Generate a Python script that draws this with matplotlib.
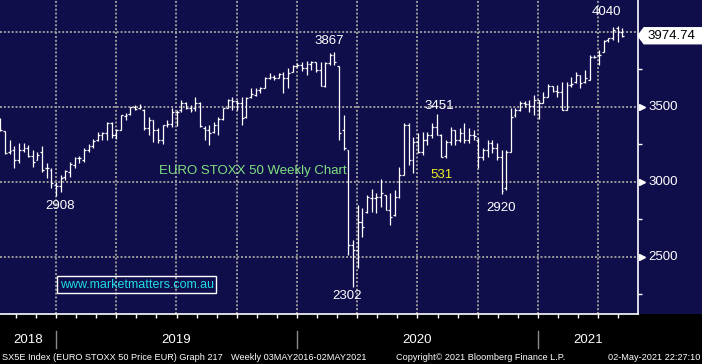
import numpy as np
import pandas as pd
import matplotlib
matplotlib.use('Agg')
import matplotlib.pyplot as plt
from matplotlib.patches import Polygon, Rectangle
from matplotlib.transforms import blended_transform_factory

# weekly bars, EURO STOXX 50 (SX5E), Oct 2018 - Apr 2021
weeks = pd.date_range('2018-10-01', periods=135, freq='W-MON')

opens = [3413, 3340, 3200, 3213, 3147, 3213, 3227, 3173, 3147, 3200,
         3093, 3080, 2980, 2973, 3033, 3067, 3113, 3160, 3147, 3213,
         3240, 3280, 3313, 3327, 3393, 3313, 3347, 3440, 3453, 3500,
         3493, 3480, 3360, 3413, 3347, 3280, 3380, 3387, 3467, 3480,
         3527, 3493, 3493, 3527, 3360, 3347, 3333, 3380, 3420, 3493,
         3547, 3540, 3527, 3433, 3567, 3580, 3613, 3627, 3693, 3700,
         3693, 3720, 3693, 3733, 3773, 3780, 3760, 3787, 3800, 3747,
         3640, 3793, 3847, 3773, 3347, 3213, 2580, 2547, 2733, 2800,
         2893, 2893, 2900, 2913, 2813, 2780, 2900, 3047, 3380, 3147,
         3267, 3200, 3280, 3313, 3367, 3313, 3173, 3267, 3347, 3280,
         3327, 3280, 3313, 3280, 3167, 3213, 3260, 3227, 3167, 2960,
         3200, 3447, 3480, 3527, 3520, 3507, 3547, 3527, 3567, 3640,
         3607, 3600, 3480, 3647, 3667, 3713, 3667, 3680, 3833, 3847,
         3867, 3947, 3960, 4027, 4000]
highs = [3427, 3340, 3280, 3240, 3260, 3260, 3247, 3213, 3200, 3240,
         3127, 3093, 3000, 3047, 3080, 3133, 3167, 3173, 3227, 3253,
         3287, 3333, 3333, 3400, 3400, 3353, 3447, 3460, 3500, 3513,
         3520, 3487, 3433, 3413, 3360, 3380, 3413, 3493, 3480, 3547,
         3533, 3513, 3567, 3533, 3373, 3380, 3400, 3433, 3493, 3553,
         3567, 3547, 3567, 3567, 3627, 3627, 3633, 3700, 3727, 3713,
         3727, 3733, 3760, 3780, 3793, 3800, 3807, 3807, 3800, 3800,
         3800, 3860, 3867, 3773, 3447, 3213, 2613, 2847, 2827, 2913,
         2953, 2926, 3020, 2913, 2926, 2947, 3100, 3393, 3393, 3300,
         3327, 3333, 3333, 3393, 3451, 3320, 3280, 3367, 3347, 3360,
         3393, 3360, 3347, 3293, 3227, 3280, 3280, 3260, 3213, 3213,
         3493, 3493, 3540, 3540, 3547, 3580, 3547, 3600, 3653, 3640,
         3647, 3667, 3667, 3700, 3733, 3713, 3747, 3847, 3847, 3880,
         3947, 3960, 4033, 4040, 4027]
lows = [3340, 3187, 3187, 3093, 3127, 3200, 3167, 3100, 3147, 3067,
        3027, 2960, 2908, 2933, 3013, 3033, 3093, 3127, 3133, 3200,
        3227, 3273, 3280, 3280, 3293, 3287, 3347, 3413, 3447, 3480,
        3487, 3347, 3313, 3267, 3260, 3253, 3367, 3367, 3373, 3467,
        3487, 3467, 3473, 3367, 3280, 3247, 3327, 3313, 3413, 3493,
        3480, 3480, 3380, 3427, 3560, 3575, 3593, 3627, 3687, 3680,
        3693, 3593, 3627, 3733, 3767, 3740, 3713, 3747, 3733, 3640,
        3635, 3780, 3780, 3280, 3213, 2513, 2302, 2426, 2633, 2793,
        2800, 2793, 2833, 2813, 2713, 2775, 2893, 3047, 3113, 3060,
        3193, 3180, 3247, 3293, 3313, 3167, 3160, 3247, 3247, 3267,
        3260, 3260, 3280, 3093, 3147, 3167, 3193, 3147, 2920, 2947,
        3200, 3433, 3473, 3500, 3467, 3447, 3420, 3527, 3567, 3600,
        3567, 3480, 3480, 3633, 3660, 3627, 3660, 3680, 3827, 3780,
        3867, 3935, 3947, 3933, 3967]
closes = [3347, 3193, 3207, 3147, 3213, 3227, 3173, 3133, 3180, 3080,
          3093, 2993, 2973, 3027, 3073, 3120, 3160, 3160, 3213, 3240,
          3273, 3313, 3327, 3393, 3313, 3347, 3447, 3447, 3500, 3487,
          3500, 3360, 3413, 3347, 3280, 3380, 3387, 3467, 3467, 3527,
          3493, 3480, 3527, 3373, 3347, 3327, 3380, 3420, 3493, 3547,
          3540, 3527, 3427, 3560, 3585, 3613, 3627, 3693, 3700, 3693,
          3720, 3693, 3727, 3773, 3780, 3760, 3787, 3800, 3747, 3640,
          3793, 3847, 3800, 3327, 3227, 2580, 2547, 2733, 2700, 2900,
          2893, 2900, 2926, 2813, 2767, 2900, 3047, 3380, 3147, 3267,
          3200, 3280, 3313, 3367, 3313, 3167, 3267, 3347, 3280, 3327,
          3280, 3313, 3307, 3167, 3213, 3260, 3227, 3167, 2940, 3200,
          3433, 3480, 3527, 3520, 3507, 3547, 3527, 3567, 3640, 3607,
          3600, 3480, 3647, 3653, 3713, 3660, 3693, 3833, 3833, 3847,
          3940, 3960, 4013, 4000, 3974.74]

# labelled turning points: (text, bar index, high/low)
marks = [('3867', 72, 'high'), ('4040', 133, 'high'), ('3451', 94, 'high'),
         ('2908', 12, 'low'), ('2302', 76, 'low'), ('2920', 108, 'low')]
mark_offsets = {'3867': (-4, 8), '4040': (-8, 10), '3451': (2, 6),
                '2908': (3, -7), '2302': (-4, -7), '2920': (0, -10)}

years = ['2018', '2019', '2020', '2021']
y_labels = [2500, 3000, 3500]

navy = '#100d4b'
grid_c = '#9a9a9a'
plt.rcParams['font.family'] = ['Liberation Sans', 'DejaVu Sans']

W, H = 702, 364
fig = plt.figure(figsize=(W / 100, H / 100), dpi=100, facecolor='black')
fig.patches.append(Rectangle((0, 50 / H), 1, 314 / H, transform=fig.transFigure,
                             facecolor=navy, edgecolor='none', zorder=-1))
ax = fig.add_axes([0, 50 / H, 638 / W, 314 / H])
ax.set_facecolor(navy)

x = np.arange(len(closes))
ax.set_xlim(-0.07, 137.4)
ax.set_ylim(2120, 4213)

# quarterly dotted grid, monthly ticks (bar index units)
quarters = 12.0 + 12.98 * np.arange(10)
months = 12.0 + 4.327 * np.arange(-2, 29)
for q in quarters:
    ax.axvline(q, color=grid_c, lw=1.4, ls=(0, (1, 1)), zorder=1)
for v in [2500, 3000, 3500, 4000]:
    ax.axhline(v, color=grid_c, lw=1.4, ls=(0, (1, 1)), zorder=1)

# OHLC bars
bar_kw = dict(color='white', lw=0.9, zorder=3)
ax.vlines(x, lows, highs, **bar_kw)
ax.hlines(opens, x - 0.4, x, **bar_kw)
ax.hlines(closes, x, x + 0.4, **bar_kw)

for s in ['top', 'left']:
    ax.spines[s].set_visible(False)
for s in ['right', 'bottom']:
    ax.spines[s].set_color('white')
    ax.spines[s].set_linewidth(1.2)

ax.set_xticks(months)
ax.set_xticklabels([])
ax.tick_params(axis='x', direction='out', length=3, width=1, color='white')
ax.yaxis.tick_right()
ax.set_yticks([2250, 2750, 3250, 3750])
ax.set_yticklabels([])
ax.tick_params(axis='y', direction='out', length=3, width=1, color='white')

tr = blended_transform_factory(ax.transAxes, ax.transData)
for v in y_labels:
    ax.plot(1 + 4 / 638, v, marker='>', ms=5, color='white', mec='white',
            transform=tr, clip_on=False)
    ax.text(1 + 10 / 638, v, str(v), transform=tr, ha='left', va='center',
            color='white', fontsize=9.5)

# last price tag
yd = ax.transData.transform((0, closes[-1]))[1] / (H)
x0 = 638 / W
tag = Polygon([(x0, yd), (x0 + 6 / W, yd + 8 / H), (1, yd + 8 / H),
               (1, yd - 8 / H), (x0 + 6 / W, yd - 8 / H)],
              closed=True, transform=fig.transFigure, facecolor='white',
              edgecolor='white', zorder=5)
fig.patches.append(tag)
fig.text(647 / W, yd, f'{closes[-1]:.2f}', ha='left', va='center',
         color='black', fontsize=9.5, zorder=6)

# turning point labels
for txt, i, kind in marks:
    yv = highs[i] if kind == 'high' else lows[i]
    ax.annotate(txt, xy=(i, yv), xytext=mark_offsets[txt],
                textcoords='offset points', ha='center', va='center',
                color='white', fontsize=9.5, zorder=4)

ax.text(0.3966, 0.455, 'EURO STOXX 50 Weekly Chart', transform=ax.transAxes,
        ha='center', va='center', color='#7fe07f', fontsize=9.5)
ax.text(0.692, 0.443, '531', transform=ax.transAxes, ha='center', va='center',
        color='#f0f020', fontsize=9.5)
ax.text(0.2147, 0.0924, 'www.marketmatters.com.au', transform=ax.transAxes,
        ha='center', va='center', color='#20dce4', fontsize=9,
        bbox=dict(boxstyle='square,pad=0.2', fc='none', ec='white', lw=1))

# year separators and labels below the axis
bt = blended_transform_factory(ax.transData, ax.transAxes)
seps = [quarters[0], quarters[4], quarters[8]]
for s in seps:
    ax.plot([s, s], [-0.054, -0.108], color='#8a8a8a', lw=1, transform=bt,
            clip_on=False)
edges = [ax.get_xlim()[0]] + seps + [ax.get_xlim()[1]]
for k, yr in enumerate(years):
    ax.text((edges[k] + edges[k + 1]) / 2, -0.083, yr, transform=bt,
            ha='center', va='center', color='white', fontsize=9.5)

fy = 7 / H
fig.text(2 / W, fy, 'SX5E Index (EURO STOXX 50 Price EUR) Graph 217', ha='left',
         va='center', color='white', fontsize=6.6)
fig.text(231 / W, fy, 'Weekly 03MAY2016-02MAY2021', ha='left', va='center',
         color='white', fontsize=6.6)
fig.text(396 / W, fy, 'Copyright\u00a9 2021 Bloomberg Finance L.P.', ha='left',
         va='center', color='white', fontsize=6.6)
fig.text(700 / W, fy, '02-May-2021 22:27:10', ha='right', va='center',
         color='white', fontsize=6.6)

fig.savefig('out.png', dpi=100, facecolor='black')
